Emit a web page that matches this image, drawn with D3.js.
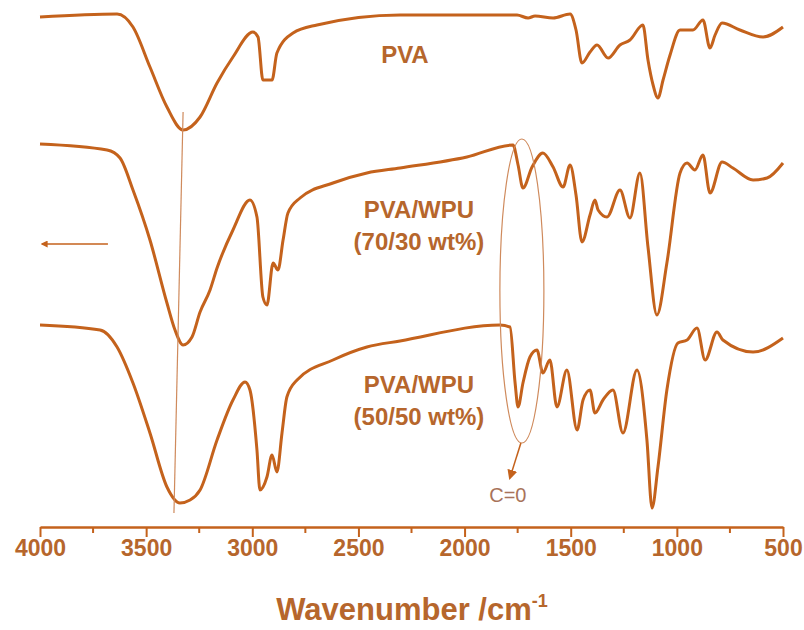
<!DOCTYPE html>
<html lang="en">
<head>
    <meta charset="UTF-8">
    <title>FTIR spectra</title>
    <style>
        body { margin: 0; background: #fff; }
        svg { display: block; background-color: #fff; }
        text { font-family: "Liberation Sans", Arial, sans-serif; }
    </style>
</head>
<body>
    <div id="graphic"></div>

    <script src="https://cdn.jsdelivr.net/npm/d3@7"></script>
    <script>
        // wavenumber (cm-1) and transmittance (a.u., offset) for each spectrum
        var pvaWave = [4000, 3637, 3562, 3482, 3402, 3326, 3246, 3166, 3091, 2997, 2973, 2950, 2907, 2884, 2808, 2695, 2304, 1753, 1701, 1668, 1583, 1503, 1475, 1447, 1409, 1376, 1324, 1268, 1221, 1160, 1136, 1112, 1089, 1065, 1032, 985, 924, 877, 844, 820, 787, 703, 594, 500];
        var pvaT = [100.6, 101.2, 98.6, 90.6, 82.6, 78, 80.6, 87.4, 92.6, 97.6, 96.6, 88, 88, 93.4, 97.4, 99, 101, 101, 100.4, 100.8, 100.4, 101.2, 98, 91.4, 93.6, 95, 92.4, 95, 96, 99, 92, 87, 84.4, 88, 93, 98, 98, 100, 94.4, 97, 99.4, 98, 96.6, 98.6];

        var wpu30Wave = [4000, 3684, 3623, 3562, 3482, 3402, 3364, 3326, 3284, 3246, 3199, 3166, 3091, 3011, 2978, 2950, 2931, 2902, 2879, 2855, 2832, 2775, 2620, 2460, 2304, 1989, 1772, 1748, 1725, 1682, 1631, 1583, 1536, 1503, 1475, 1447, 1409, 1386, 1371, 1329, 1268, 1221, 1174, 1136, 1094, 1047, 985, 952, 915, 877, 844, 787, 736, 641, 575, 500];
        var wpu30T = [75.2, 74, 72.4, 66, 56, 43.4, 38, 35, 36.6, 41.6, 46, 50.4, 58, 64, 60.6, 44.6, 43, 51.4, 50, 56, 61.4, 64.4, 67.4, 69.4, 70.4, 72.6, 75, 71, 66.4, 70.6, 73.4, 70.6, 66.6, 71, 65, 55.6, 61, 64, 62, 60.6, 66, 60.4, 69.4, 54.6, 41, 51.4, 69.4, 71.4, 70, 73, 65.4, 71.6, 70.4, 68, 68.4, 71.4];

        var wpu50Wave = [4000, 3717, 3637, 3562, 3482, 3402, 3341, 3293, 3246, 3166, 3091, 3034, 3011, 2978, 2964, 2931, 2907, 2884, 2860, 2837, 2789, 2620, 2460, 2304, 1833, 1786, 1762, 1748, 1725, 1692, 1659, 1631, 1598, 1565, 1518, 1470, 1442, 1409, 1386, 1348, 1301, 1254, 1188, 1141, 1117, 1089, 1047, 995, 952, 905, 867, 811, 783, 641, 500];
        var wpu50T = [39, 38, 34.6, 27.4, 17.4, 6.6, 3.4, 4, 6, 16, 24, 27.6, 26, 14, 6, 8.6, 13, 9.6, 17.4, 24.6, 28, 32, 34.6, 35.8, 39, 38.6, 27.4, 22.6, 27.4, 32.6, 34, 29.4, 32, 22.6, 30, 18, 24, 26, 21.4, 24, 26, 17.4, 30, 16, 2.4, 10.6, 26, 35.4, 36, 38.4, 32, 37.6, 36, 33.6, 36.4];

        var majorTicks = [4000, 3500, 3000, 2500, 2000, 1500, 1000, 500];
        var minorTicks = [3750, 3250, 2750, 2250, 1750, 1250, 750];

        var labels = [
            { lines: ['PVA'], wave: 2281, t: 91.4 },
            { lines: ['PVA/WPU', '(70/30 wt%)'], wave: 2215, t: 60.4 },
            { lines: ['PVA/WPU', '(50/50 wt%)'], wave: 2215, t: 25.4 }
        ];

        // O-H shift guide, C=O ellipse and shift arrow
        var guideWave = [3326, 3369];
        var guideT = [81.6, 1.4];
        var ellipseWave = 1730, ellipseT = 45.8;
        var shiftWave = [3680, 4000], shiftT = 55.2;

        var width = 804;
        var height = 630;
        var ink = '#c4621c';
        var textInk = '#b6662c';
        var thin = '#cf8a5c';

        var x = d3.scaleLinear().domain([4000, 500]).range([40, 783]);
        var y = d3.scaleLinear().domain([0, 104]).range([520, 0]);
        var axisY = 527;

        var svg = d3.select('#graphic')
            .append('svg')
            .attr('width', width)
            .attr('height', height);

        var defs = svg.append('defs');
        defs.append('marker')
            .attr('id', 'head')
            .attr('viewBox', '0 0 10 10')
            .attr('refX', 8).attr('refY', 5)
            .attr('markerWidth', 7).attr('markerHeight', 7)
            .attr('markerUnits', 'userSpaceOnUse')
            .attr('orient', 'auto')
            .append('path')
            .attr('d', 'M0,0 L10,5 L0,10 z')
            .attr('fill', ink);
        defs.append('marker')
            .attr('id', 'head2')
            .attr('viewBox', '0 0 10 10')
            .attr('refX', 8).attr('refY', 5)
            .attr('markerWidth', 10).attr('markerHeight', 10)
            .attr('markerUnits', 'userSpaceOnUse')
            .attr('orient', 'auto')
            .append('path')
            .attr('d', 'M0,0 L10,5 L0,10 z')
            .attr('fill', ink);

        // spectra
        var line = d3.line()
            .x(function(d) { return x(d[0]); })
            .y(function(d) { return y(d[1]); })
            .curve(d3.curveMonotoneX);

        var spectra = [
            d3.zip(pvaWave, pvaT),
            d3.zip(wpu30Wave, wpu30T),
            d3.zip(wpu50Wave, wpu50T)
        ];

        svg.selectAll('path.spec')
            .data(spectra)
            .join('path')
            .attr('class', 'spec')
            .attr('d', line)
            .attr('fill', 'none')
            .attr('stroke', ink)
            .attr('stroke-width', 3)
            .attr('stroke-linejoin', 'round');

        // guide line through the O-H minima
        svg.append('line')
            .attr('x1', x(guideWave[0])).attr('y1', y(guideT[0]))
            .attr('x2', x(guideWave[1])).attr('y2', y(guideT[1]))
            .attr('stroke', thin)
            .attr('stroke-width', 1.2);

        // C=O ellipse
        svg.append('ellipse')
            .attr('cx', x(ellipseWave))
            .attr('cy', y(ellipseT))
            .attr('rx', 22)
            .attr('ry', 152)
            .attr('fill', 'none')
            .attr('stroke', thin)
            .attr('stroke-width', 1.2);

        svg.append('line')
            .attr('x1', x(ellipseWave) - 1).attr('y1', y(ellipseT) + 152)
            .attr('x2', x(ellipseWave) - 12).attr('y2', y(ellipseT) + 187)
            .attr('stroke', ink)
            .attr('stroke-width', 1.5)
            .attr('marker-end', 'url(#head2)');

        svg.append('text')
            .attr('x', x(ellipseWave) - 14)
            .attr('y', 502)
            .attr('text-anchor', 'middle')
            .attr('font-size', 20)
            .attr('fill', '#a8735a')
            .text('C=0');

        // shift arrow on the left
        svg.append('line')
            .attr('x1', x(shiftWave[0])).attr('y1', y(shiftT))
            .attr('x2', x(shiftWave[1]) + 2).attr('y2', y(shiftT))
            .attr('stroke', ink)
            .attr('stroke-width', 1.3)
            .attr('marker-end', 'url(#head)');

        // sample labels
        labels.forEach(function(l) {
            l.lines.forEach(function(s, i) {
                svg.append('text')
                    .attr('x', x(l.wave))
                    .attr('y', y(l.t) + i * 32)
                    .attr('text-anchor', 'middle')
                    .attr('font-size', 24)
                    .attr('font-weight', 'bold')
                    .attr('fill', textInk)
                    .text(s);
            });
        });

        // x axis
        var axis = d3.axisBottom(x)
            .tickValues(majorTicks)
            .tickSize(10)
            .tickSizeOuter(0)
            .tickPadding(3)
            .tickFormat(d3.format('d'));

        var gx = svg.append('g')
            .attr('transform', 'translate(0,' + axisY + ')')
            .call(axis);

        gx.select('.domain').attr('stroke', ink).attr('stroke-width', 2.5);
        gx.selectAll('.tick line').attr('stroke', ink).attr('stroke-width', 2);
        gx.selectAll('.tick text')
            .attr('fill', textInk)
            .attr('font-size', 23)
            .attr('font-weight', 'bold')
            .attr('font-family', '"Liberation Sans", Arial, sans-serif');

        gx.selectAll('.minor')
            .data(minorTicks)
            .join('line')
            .attr('class', 'minor')
            .attr('x1', function(d) { return x(d); })
            .attr('x2', function(d) { return x(d); })
            .attr('y1', 0).attr('y2', 6)
            .attr('stroke', ink)
            .attr('stroke-width', 2);

        var title = svg.append('text')
            .attr('x', 412)
            .attr('y', 620)
            .attr('text-anchor', 'middle')
            .attr('font-size', 31)
            .attr('font-weight', 'bold')
            .attr('fill', textInk);
        title.append('tspan').text('Wavenumber /cm');
        title.append('tspan')
            .attr('dy', -13)
            .attr('font-size', 18)
            .text('-1');
    </script>
</body>
</html>
